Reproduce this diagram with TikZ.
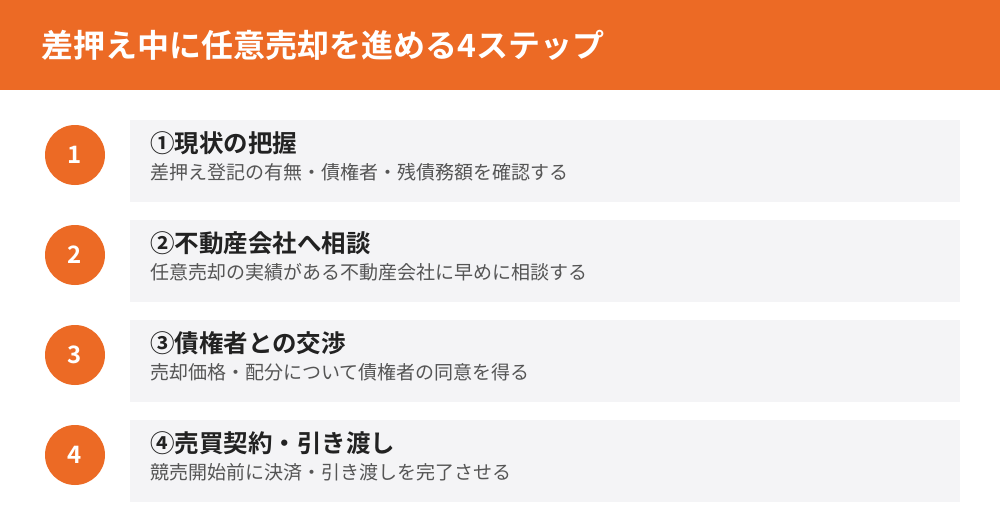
\documentclass[tikz,border=0pt]{standalone}
\usepackage{fontspec}
\setmainfont{Noto Sans CJK JP}[BoldFont={Noto Sans CJK JP Bold}]
\usetikzlibrary{positioning}
\definecolor{hdorange}{HTML}{EC6A25}
\definecolor{boxgray}{HTML}{F4F4F6}
\definecolor{headtext}{HTML}{222222}
\definecolor{subtext}{HTML}{555555}

\begin{document}
\begin{tikzpicture}[x=1pt,y=-1pt,
    num/.style={circle,fill=hdorange,minimum size=60pt,inner sep=0pt,text=white,font=\fontsize{24}{28}\selectfont\bfseries},
    card/.style={fill=boxgray,draw=none},
    steptitle/.style={anchor=west,inner sep=0pt,text=headtext,font=\fontsize{24.5}{28}\selectfont\bfseries},
    stepdesc/.style={anchor=west,inner sep=0pt,text=subtext,font=\fontsize{19}{22}\selectfont}]
        \useasboundingbox (0,0) rectangle (1000,530);
        \fill[white] (0,0) rectangle (1000,530);

        % header
        \fill[hdorange] (0,0) rectangle (1000,90);
        \node[anchor=west,inner sep=0pt,text=white,font=\fontsize{32}{36}\selectfont\bfseries] (title) at (41,45) {差押え中に任意売却を進める4ステップ};

        % cards
        \fill[card] (130,120) rectangle (960,202);
        \fill[card] (130,220) rectangle (960,302);
        \fill[card] (130,320) rectangle (960,402);
        \fill[card] (130,420) rectangle (960,502);

        \node[num] (n1) at (75,155) {1};
        \node[num] (n2) at (75,255) {2};
        \node[num] (n3) at (75,355) {3};
        \node[num] (n4) at (75,455) {4};

        \node[steptitle] (t1) at (150,143) {①現状の把握};
        \node[stepdesc] (d1) at (150,172) {差押え登記の有無・債権者・残債務額を確認する};
        \node[steptitle] (t2) at (150,243) {②不動産会社へ相談};
        \node[stepdesc] (d2) at (150,272) {任意売却の実績がある不動産会社に早めに相談する};
        \node[steptitle] (t3) at (150,343) {③債権者との交渉};
        \node[stepdesc] (d3) at (150,372) {売却価格・配分について債権者の同意を得る};
        \node[steptitle] (t4) at (150,443) {④売買契約・引き渡し};
        \node[stepdesc] (d4) at (150,472) {競売開始前に決済・引き渡しを完了させる};
      \end{tikzpicture}
\end{document}
